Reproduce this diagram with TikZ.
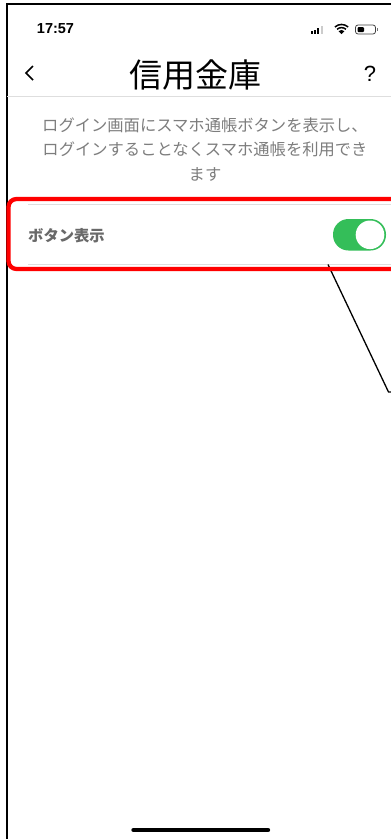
\documentclass[tikz,border=0pt]{standalone}
\usepackage{fontspec}
\setmainfont{Liberation Sans}
\newfontfamily\cjk{Noto Sans CJK JP}[Scale=1]
\definecolor{graytext}{RGB}{125,125,125}
\definecolor{labeltext}{RGB}{105,105,105}
\definecolor{sep}{RGB}{222,222,222}
\definecolor{togglegreen}{RGB}{52,190,89}
\definecolor{alertred}{RGB}{255,0,0}
\tikzset{
  cjktext/.style={inner sep=0pt,font=\cjk},
  bodyline/.style={cjktext,text=graytext,font=\cjk\fontsize{16.3}{18}\selectfont},
  sepline/.style={draw=sep,line width=1.3pt},
}
\begin{document}
\begin{tikzpicture}[x=1pt,y=-1pt]
\useasboundingbox (0,0) rectangle (391,839);
\fill[white] (0,0) rectangle (391,839);
% phone frame
\draw[black,line width=2pt] (6.5,839) -- (6.5,3.5) -- (391,3.5);
% status bar
\node[inner sep=0pt,font=\fontsize{14.5}{16}\selectfont,text=black] (time) at (55.5,29) {\textbf{17:57}};
% signal
\fill[black] (310.5,31) rectangle (312.5,34);
\fill[black] (313.7,29.5) rectangle (315.7,34);
\fill[black] (317,27.5) rectangle (319.2,34);
\fill[gray!40] (320.5,25.5) rectangle (322.5,34);
% wifi
\fill[black] (341.5,34.2) -- ++(-3,-3) arc[start angle=225,end angle=315,radius=4.24] -- cycle;
\draw[black,line width=1.5pt] (337.1,29.3) arc[start angle=228,end angle=312,radius=6.6];
\draw[black,line width=1.5pt] (334.9,27) arc[start angle=228,end angle=312,radius=9.9];
% battery
\draw[black!75,line width=.8pt,rounded corners=2.5pt] (355.5,25) rectangle (375.5,34);
\fill[black,rounded corners=1pt] (357.5,27) rectangle (364,32);
\fill[black!55] (376.5,28) rectangle (377.7,31);
% nav
\draw[black,line width=1.6pt] (33,66) -- (26,73) -- (33,80);
\node[cjktext,font=\cjk\fontsize{33}{36}\selectfont] (title) at (195,75) {信用金庫};
\node[inner sep=0pt,font=\fontsize{22}{24}\selectfont,text=black] (help) at (370,73.5) {?};
\draw[sepline] (7,96.5) -- (391,96.5);
% description
\node[bodyline] (d1) at (205,125) {ログイン画面にスマホ通帳ボタンを表示し、};
\node[bodyline] (d2) at (205,149.5) {ログインすることなくスマホ通帳を利用でき};
\node[bodyline] (d3) at (205,174) {ます};
% row
\draw[sepline] (28,204.5) -- (391,204.5);
\draw[sepline] (28,264.5) -- (391,264.5);
\node[cjktext,anchor=west,text=labeltext,font=\cjk\bfseries\fontsize{15.3}{18}\selectfont] (lab) at (28,235.5) {ボタン表示};
% toggle
\fill[togglegreen,rounded corners=15.5pt] (333,219) rectangle (386,250.5);
\fill[white] (370,234.8) circle (14.3);
% callout
\coordinate (c0) at (328,264.5);
\coordinate (c1) at (388.5,392);
\coordinate (c2) at (391,392);
\draw[black,line width=1.3pt] (c0) -- (c1) -- (c2);
% red highlight
\draw[alertred,line width=4.3pt,rounded corners=8pt] (400,199) -- (8.5,199) -- (8.5,269) -- (400,269);
% home indicator
\draw[black,line width=4.4pt,line cap=round] (133.5,830) -- (268,830);
\end{tikzpicture}
\end{document}
